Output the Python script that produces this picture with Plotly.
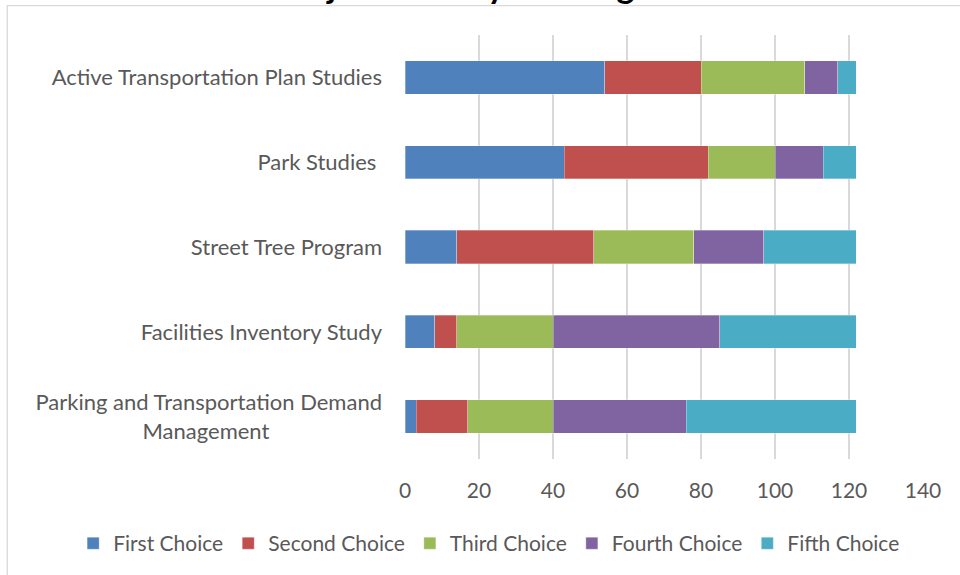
import plotly.graph_objects as go

categories = [
    "Active Transportation Plan Studies",
    "Park Studies\u00a0",
    "Street Tree Program",
    "Facilities Inventory Study",
    "Parking and Transportation Demand<br>Management" + "\u00a0" * 20,
]
series_names = ["First Choice", "Second Choice", "Third Choice", "Fourth Choice", "Fifth Choice"]
first_choice = [54, 43, 14, 8, 3]
second_choice = [26, 39, 37, 6, 14]
third_choice = [28, 18, 27, 26, 23]
fourth_choice = [9, 13, 19, 45, 36]
fifth_choice = [5, 9, 25, 37, 46]
x_ticks = [0, 20, 40, 60, 80, 100, 120, 140]
title_text = "Project Priority Ranking"

colors = ["#4F81BD", "#C0504D", "#9BBB59", "#8064A2", "#4BACC6"]
series_values = [first_choice, second_choice, third_choice, fourth_choice, fifth_choice]

FONT = "Lato, 'Open Sans', sans-serif"
FS = 21

fig = go.Figure()
for name, vals, col in zip(series_names, series_values, colors):
    fig.add_trace(go.Bar(
        y=categories, x=vals, name=name, orientation="h",
        marker=dict(color=col, line=dict(color="rgba(255,255,255,0.5)", width=0.6)),
    ))

# plot-area geometry (pixels)
L, R, T, B = 404.5, 923.5, 35.3, 459.4
W, H = R - L, B - T

fig.update_layout(
    width=960, height=575,
    barmode="stack", bargap=0.607,
    plot_bgcolor="white", paper_bgcolor="white",
    margin=dict(l=L, r=960 - R, t=T, b=575 - B, pad=0, autoexpand=False),
    font=dict(family=FONT, size=FS, color="#595959"),
    xaxis=dict(range=[0, 140], tickvals=x_ticks, showgrid=True, gridcolor="#d9d9d9",
               gridwidth=1.8, zeroline=False, showline=False, ticks="", automargin=False,
               ticklabelstandoff=17, tickfont=dict(size=FS, color="#595959")),
    yaxis=dict(autorange="reversed", showgrid=False, showline=False, ticks="", automargin=False,
               ticklabelstandoff=22, tickfont=dict(size=22, color="#595959")),
    legend=dict(orientation="h", xref="paper", x=(72 - L) / W, xanchor="left",
                yref="paper", y=(B - 544) / H, yanchor="middle", traceorder="normal",
                bgcolor="rgba(0,0,0,0)", font=dict(size=FS, color="#595959")),
    showlegend=True,
)

# clipped chart title (only its lower edge is inside the picture)
fig.add_annotation(text="<b>" + title_text + "</b>", xref="paper", yref="paper",
                   x=(455 - L) / W, xanchor="center", y=(B - 6) / H, yanchor="bottom",
                   showarrow=False, borderpad=0,
                   font=dict(family=FONT, size=34, color="#000000"))

# chart-area border
fig.add_shape(type="rect", xref="paper", yref="paper",
              x0=(6 - L) / W, x1=(1200 - L) / W, y0=(B - 700) / H, y1=(B - 6) / H,
              line=dict(color="#d9d9d9", width=1.3), fillcolor="rgba(0,0,0,0)", layer="below")

fig.write_html("out.html", config={"displayModeBar": False},
               post_script="document.body.style.margin='0';")
